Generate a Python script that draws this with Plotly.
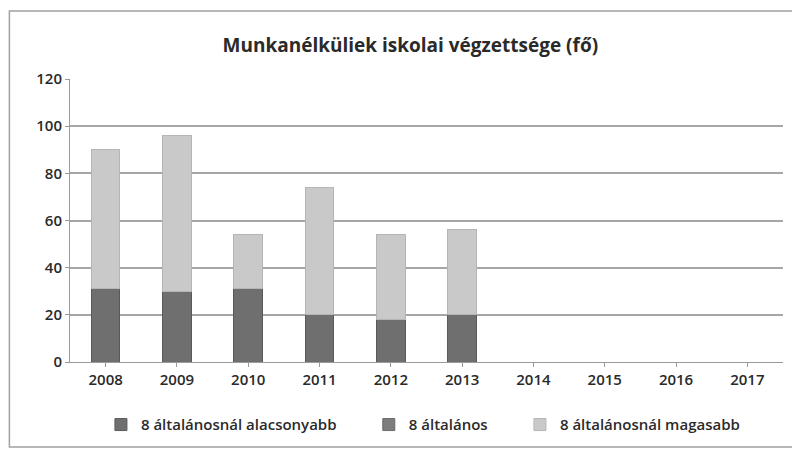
import plotly.graph_objects as go

years = ["2008", "2009", "2010", "2011", "2012", "2013", "2014", "2015", "2016", "2017"]
alacsonyabb = [31, 30, 31, 20, 18, 20, None, None, None, None]
altalanos = [0, 0, 0, 0, 0, 0, None, None, None, None]
magasabb = [59, 66, 23, 54, 36, 36, None, None, None, None]

names = ["8 általánosnál alacsonyabb", "8 általános", "8 általánosnál magasabb"]
colors = ["#6f6f6f", "#7d7d7d", "#c9c9c9"]
lines = ["#5a5a5a", "#6a6a6a", "#b5b5b5"]

pad = "\u00a0" * 7
fig = go.Figure()
for i, (name, vals, c, lc) in enumerate(zip(names, [alacsonyabb, altalanos, magasabb], colors, lines)):
    label = name + (pad if i < 2 else "")
    fig.add_trace(go.Bar(x=years, y=vals, name=label,
                         marker=dict(color=c, line=dict(color=lc, width=1))))

tickfont = dict(size=15, color="#2a2a2a", weight=600)

fig.update_layout(
    barmode="stack",
    bargap=0.6,
    width=792, height=442,
    paper_bgcolor="white", plot_bgcolor="white",
    margin=dict(l=62, r=17, t=71, b=88, autoexpand=False),
    font=dict(family="Open Sans, Liberation Sans, sans-serif", color="#333333", size=14),
    title=dict(text="<b>Munkanélküliek iskolai végzettsége (fő)</b>", x=0.508, xanchor="center",
               yref="container", y=0.915, yanchor="middle", font=dict(size=19, color="#2a2a2a")),
    xaxis=dict(showgrid=False, showline=True, linecolor="#9a9a9a", linewidth=1,
               ticks="outside", ticklen=4, tickcolor="#9a9a9a",
               tickfont=tickfont, type="category"),
    yaxis=dict(range=[0, 120], dtick=20, showgrid=True, gridcolor="#a6a6a6", gridwidth=1.5,
               showline=True, linecolor="#9a9a9a", linewidth=1, zeroline=False,
               ticks="outside", ticklen=4, tickcolor="#9a9a9a",
               tickfont=tickfont),
    legend=dict(orientation="h", x=0.495, xanchor="center", yref="container", y=0.057,
                yanchor="middle", font=dict(size=15, color="#2a2a2a", weight=600),
                traceorder="normal", itemwidth=30),
    shapes=[dict(type="rect", xref="paper", yref="paper",
                 x0=-0.085, x1=1.025, y0=-0.30, y1=1.24,
                 line=dict(color="#a0a0a0", width=1.5), fillcolor="rgba(0,0,0,0)")],
)

fig.write_html("out.html")
